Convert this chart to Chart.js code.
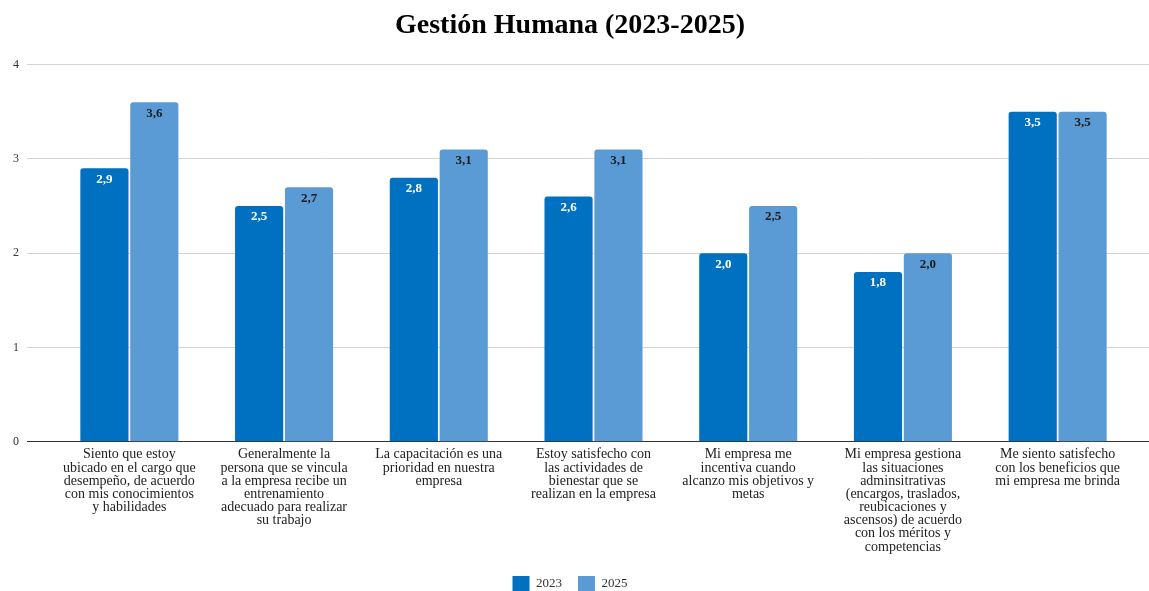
<!DOCTYPE html>
<html lang="es">
<head>
<meta charset="utf-8">
<title>Gestión Humana (2023-2025)</title>
<script src="https://cdn.jsdelivr.net/npm/chart.js@4.4.0/dist/chart.umd.min.js"></script>
<style>
  html, body { margin: 0; padding: 0; background: #fff; }
  #wrap { width: 1149px; height: 591px; }
</style>
</head>
<body>
<div id="wrap"><canvas id="grafico"></canvas></div>
<script>
// Datos del gráfico
const categorias = [
    ['Siento que estoy', 'ubicado en el cargo que', 'desempeño, de acuerdo', 'con mis conocimientos', 'y habilidades'],
    ['Generalmente la', 'persona que se vincula', 'a la empresa recibe un', 'entrenamiento', 'adecuado para realizar', 'su trabajo'],
    ['La capacitación es una', 'prioridad en nuestra', 'empresa'],
    ['Estoy satisfecho con', 'las actividades de', 'bienestar que se', 'realizan en la empresa'],
    ['Mi empresa me', 'incentiva cuando', 'alcanzo mis objetivos y', 'metas'],
    ['Mi empresa gestiona', 'las situaciones', 'adminsitrativas', '(encargos, traslados,', 'reubicaciones y', 'ascensos) de acuerdo', 'con los méritos y', 'competencias'],
    ['Me siento satisfecho', 'con los beneficios que', 'mi empresa me brinda']
];
const valores2023 = [2.9, 2.5, 2.8, 2.6, 2.0, 1.8, 3.5];
const valores2025 = [3.6, 2.7, 3.1, 3.1, 2.5, 2.0, 3.5];
const ticksY = [0, 1, 2, 3, 4];

const fuente = "'Liberation Serif', 'Times New Roman', serif";

// Etiquetas de valor dentro de cada barra
const etiquetasValor = {
    id: 'etiquetasValor',
    afterDatasetsDraw(chart) {
        const ctx = chart.ctx;
        ctx.save();
        ctx.font = 'bold 13px ' + fuente;
        ctx.textAlign = 'center';
        ctx.textBaseline = 'middle';
        chart.data.datasets.forEach((ds, i) => {
            const meta = chart.getDatasetMeta(i);
            ctx.fillStyle = i === 0 ? '#ffffff' : '#1a1a1a';
            meta.data.forEach((bar, j) => {
                const txt = ds.data[j].toFixed(1).replace('.', ',');
                ctx.fillText(txt, bar.x, bar.y + 11);
            });
        });
        ctx.restore();
    }
};

// Extiende las líneas de la cuadrícula hasta el borde derecho
const extenderGrid = {
    id: 'extenderGrid',
    beforeDatasetsDraw(chart) {
        const ctx = chart.ctx;
        const area = chart.chartArea;
        const y = chart.scales.y;
        ctx.save();
        ctx.lineWidth = 1;
        ticksY.forEach(v => {
            const py = Math.round(y.getPixelForValue(v) - 0.5) + 0.5;
            ctx.strokeStyle = v === 0 ? '#333333' : '#d4d4d4';
            ctx.beginPath();
            ctx.moveTo(area.right, py);
            ctx.lineTo(chart.width, py);
            ctx.stroke();
        });
        ctx.restore();
    }
};

document.addEventListener('DOMContentLoaded', () => {
    const ctx = document.getElementById('grafico').getContext('2d');
    new Chart(ctx, {
        type: 'bar',
        data: {
            labels: categorias,
            datasets: [
                {
                    label: '2023',
                    data: valores2023,
                    backgroundColor: '#0070C0',
                    borderRadius: { topLeft: 3, topRight: 3 },
                    borderSkipped: 'bottom',
                    categoryPercentage: 0.645,
                    barPercentage: 0.965
                },
                {
                    label: '2025',
                    data: valores2025,
                    backgroundColor: '#5B9BD5',
                    borderRadius: { topLeft: 3, topRight: 3 },
                    borderSkipped: 'bottom',
                    categoryPercentage: 0.645,
                    barPercentage: 0.965
                }
            ]
        },
        options: {
            responsive: true,
            maintainAspectRatio: false,
            animation: false,
            layout: { padding: { left: 5, right: 14, top: 0, bottom: 0 } },
            plugins: {
                title: {
                    display: true,
                    text: 'Gestión Humana (2023-2025)',
                    color: '#000',
                    font: { family: fuente, size: 28, weight: 'bold' },
                    padding: { top: 9, bottom: 22 }
                },
                legend: {
                    position: 'bottom',
                    maxHeight: 31,
                    labels: {
                        color: '#333',
                        font: { family: fuente, size: 13 },
                        boxWidth: 17,
                        boxHeight: 15,
                        padding: 16
                    }
                },
                tooltip: { enabled: false }
            },
            scales: {
                x: {
                    grid: { display: false, drawTicks: false, tickLength: 0 },
                    border: { display: true, color: '#333333' },
                    ticks: {
                        color: '#222',
                        font: { family: fuente, size: 14, lineHeight: 0.94 },
                        maxRotation: 0,
                        autoSkip: false,
                        padding: 6.5
                    }
                },
                y: {
                    min: 0,
                    max: 4,
                    border: { display: false },
                    grid: {
                        color: c => c.tick && c.tick.value === 0 ? '#333333' : '#d4d4d4',
                        tickLength: 25,
                        drawTicks: true
                    },
                    ticks: {
                        stepSize: 1,
                        color: '#333',
                        font: { family: fuente, size: 12 },
                        padding: 8
                    }
                }
            }
        },
        plugins: [etiquetasValor, extenderGrid]
    });
});
</script>
</body>
</html>
